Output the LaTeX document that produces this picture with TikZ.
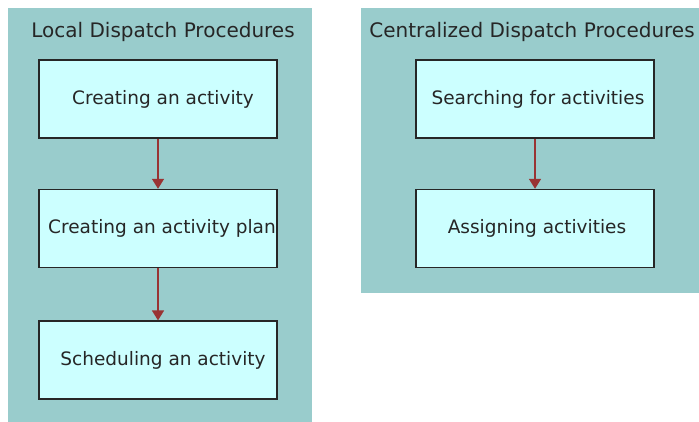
\documentclass[tikz,border=0pt]{standalone}
\usepackage{fontspec}
\setmainfont{DejaVu Sans}
\usetikzlibrary{arrows.meta}
\usetikzlibrary{positioning}
\definecolor{panelteal}{HTML}{99CCCC}
\definecolor{boxcyan}{HTML}{CCFFFF}
\definecolor{flowred}{HTML}{993333}

\begin{document}
\begin{tikzpicture}[x=1pt, y=-1pt,
        panel/.style={fill=panelteal, draw=none, inner sep=0pt, anchor=north west},
        title/.style={anchor=base, text=black!85, font=\fontsize{20}{24}\selectfont},
        proc/.style={draw=black!85, fill=boxcyan, line width=1.6pt, minimum width=238pt,
            minimum height=78pt, inner sep=0pt, text=black!85, font=\fontsize{18.5}{22}\selectfont},
        flow/.style={-{Triangle[width=12pt,length=10pt]}, color=flowred, line width=1.6pt}]
            \useasboundingbox (0,0) rectangle (699,422);
            % the two groups
            \node[panel, minimum width=304pt, minimum height=414pt] (local) at (8,8) {};
            \node[panel, minimum width=338pt, minimum height=285pt] (central) at (361,8) {};
            \node[title] (localtitle) at (163,38) {Local Dispatch Procedures};
            \node[title] (centraltitle) at (532,38) {Centralized Dispatch Procedures};
            % local procedures
            \node[proc] (create) at (158,99) {\hspace{10pt}Creating an activity};
            \node[proc, below=50pt of create] (plan) {\hspace{8pt}Creating an activity plan};
            \node[proc, below=52pt of plan] (schedule) {\hspace{10pt}Scheduling an activity};
            % centralized procedures
            \node[proc] (search) at (535,99) {\hspace{6pt}Searching for activities};
            \node[proc, below=50pt of search] (assign) {\hspace{4pt}Assigning activities};
    	    \path[flow] (create) edge (plan);
    	    \path[flow] (plan) edge (schedule);
    	    \path[flow] (search) edge (assign);
	    \end{tikzpicture}
\end{document}
